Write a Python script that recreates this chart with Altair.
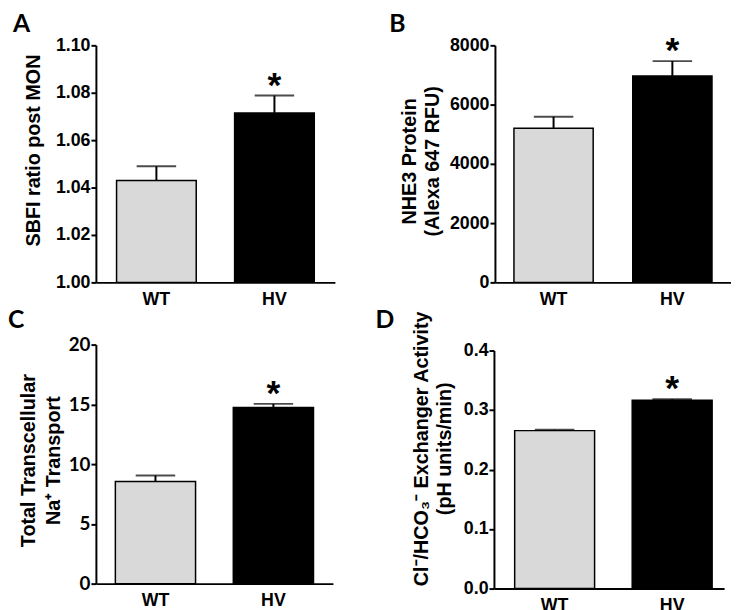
import altair as alt
import pandas as pd

groups = ["WT", "HV"]
stars = ["", "*"]
fills = ["#d9d9d9", "#000000"]

a_vals = [1.043, 1.0715]
a_errs = [1.049, 1.0788]
a_ticks = [1.00, 1.02, 1.04, 1.06, 1.08, 1.10]

b_vals = [5200, 6967]
b_errs = [5590, 7467]
b_ticks = [0, 2000, 4000, 6000, 8000]

c_vals = [8.55, 14.73]
c_errs = [9.05, 15.04]
c_ticks = [0, 5, 10, 15, 20]

d_vals = [0.2654, 0.3165]
d_errs = [0.2670, 0.3180]
d_ticks = [0.0, 0.1, 0.2, 0.3, 0.4]

FONT = "Liberation Sans"


def panel(letter, vals, errs, ticks, fmt, title, width, height, xscale,
          title_x, title_y, line_h, letter_x, letter_y, label_font=FONT,
          label_size=18, yrange=None):
    df = pd.DataFrame({"g": groups, "v": vals, "e": errs, "s": stars,
                       "b": [ticks[0]] * len(groups)})
    x = alt.X("g:N", sort=groups, scale=xscale,
              axis=alt.Axis(title=None, ticks=False, labelAngle=0, labelPadding=8,
                            labelFontSize=18, labelFont=FONT, labelFontWeight="bold",
                            domainWidth=2, domainColor="black", labelColor="black"))
    if yrange is None:
        yscale = alt.Scale(domain=[ticks[0], ticks[-1]], zero=False, nice=False)
    else:
        yscale = alt.Scale(domain=[ticks[0], ticks[-1]], zero=False, nice=False, range=yrange)
    y = alt.Y("v:Q", scale=yscale,
              axis=alt.Axis(values=ticks, format=fmt, title=title, grid=False,
                            titleX=title_x, titleY=title_y, titleAlign="center",
                            titleBaseline="bottom", titleLineHeight=line_h,
                            titleFont=FONT, titleFontSize=20, titleFontWeight="bold",
                            titleColor="black", labelFont=label_font,
                            labelFontSize=label_size, labelFontWeight="bold",
                            labelColor="black", labelPadding=1, tickSize=5,
                            tickWidth=2, tickColor="black", domainWidth=2,
                            domainColor="black"))
    base = alt.Chart(df)
    rule = base.mark_rule(color="black", strokeWidth=2).encode(
        x=x, y=alt.Y("v:Q", scale=yscale), y2="e:Q")
    cap = base.mark_tick(color="black", size=40, thickness=2).encode(
        x=x, y=alt.Y("e:Q", scale=yscale))
    bars = base.mark_bar(stroke="black", strokeWidth=1.5).encode(
        x=x, y=y, y2="b:Q",
        color=alt.Color("g:N", scale=alt.Scale(domain=groups, range=fills), legend=None))
    star = base.mark_text(font=FONT, fontSize=36, fontWeight="bold", color="black",
                          align="center", baseline="alphabetic", dy=1).encode(
        x=x, y=alt.Y("e:Q", scale=yscale), text="s:N")
    lab = alt.Chart(pd.DataFrame({"t": [letter]})).mark_text(
        font="Lato", fontSize=25, fontWeight="bold", color="black",
        align="left", baseline="top").encode(
        x=alt.value(letter_x), y=alt.value(letter_y), text="t:N")
    return alt.layer(rule, cap, bars, star, lab).properties(width=width, height=height)


pa = panel("A", a_vals, a_errs, a_ticks, ".2f", "SBFI ratio post MON", 242, 240,
           alt.Scale(paddingInner=0.325, paddingOuter=0.175),
           -53, 106, 23, -84, -34)
pb = panel("B", b_vals, b_errs, b_ticks, "d", ["NHE3 Protein", "(Alexa 647 RFU)"], 239, 240,
           alt.Scale(paddingInner=0.333, paddingOuter=0.16),
           -76, 117, 23, -107, -34)
pc = panel("C", c_vals, c_errs, c_ticks, "d", ["Total Transcellular", "Na\u207a Transport"], 240, 236,
           alt.Scale(paddingInner=0.32, paddingOuter=0.165),
           -58, 111, 25, -89, -43, label_font="Lato", label_size=19, yrange=[236, -6])
pd_ = panel("D", d_vals, d_errs, d_ticks, ".1f",
            ["Cl\u207b/HCO\u2083\u207b Exchanger Activity", "(pH units/min)"], 233, 241,
            alt.Scale(paddingInner=0.32, paddingOuter=0.139, align=0.634),
            -63, 99, 23, -120, -43)

row1 = alt.hconcat(pa, pb, spacing=55)
row2 = alt.hconcat(pc, pd_, spacing=43)
chart = alt.vconcat(row1, row2, spacing=0).properties(padding=0).configure_view(stroke=None)

chart.save("out.html", embed_options={"renderer": "svg", "actions": False})
